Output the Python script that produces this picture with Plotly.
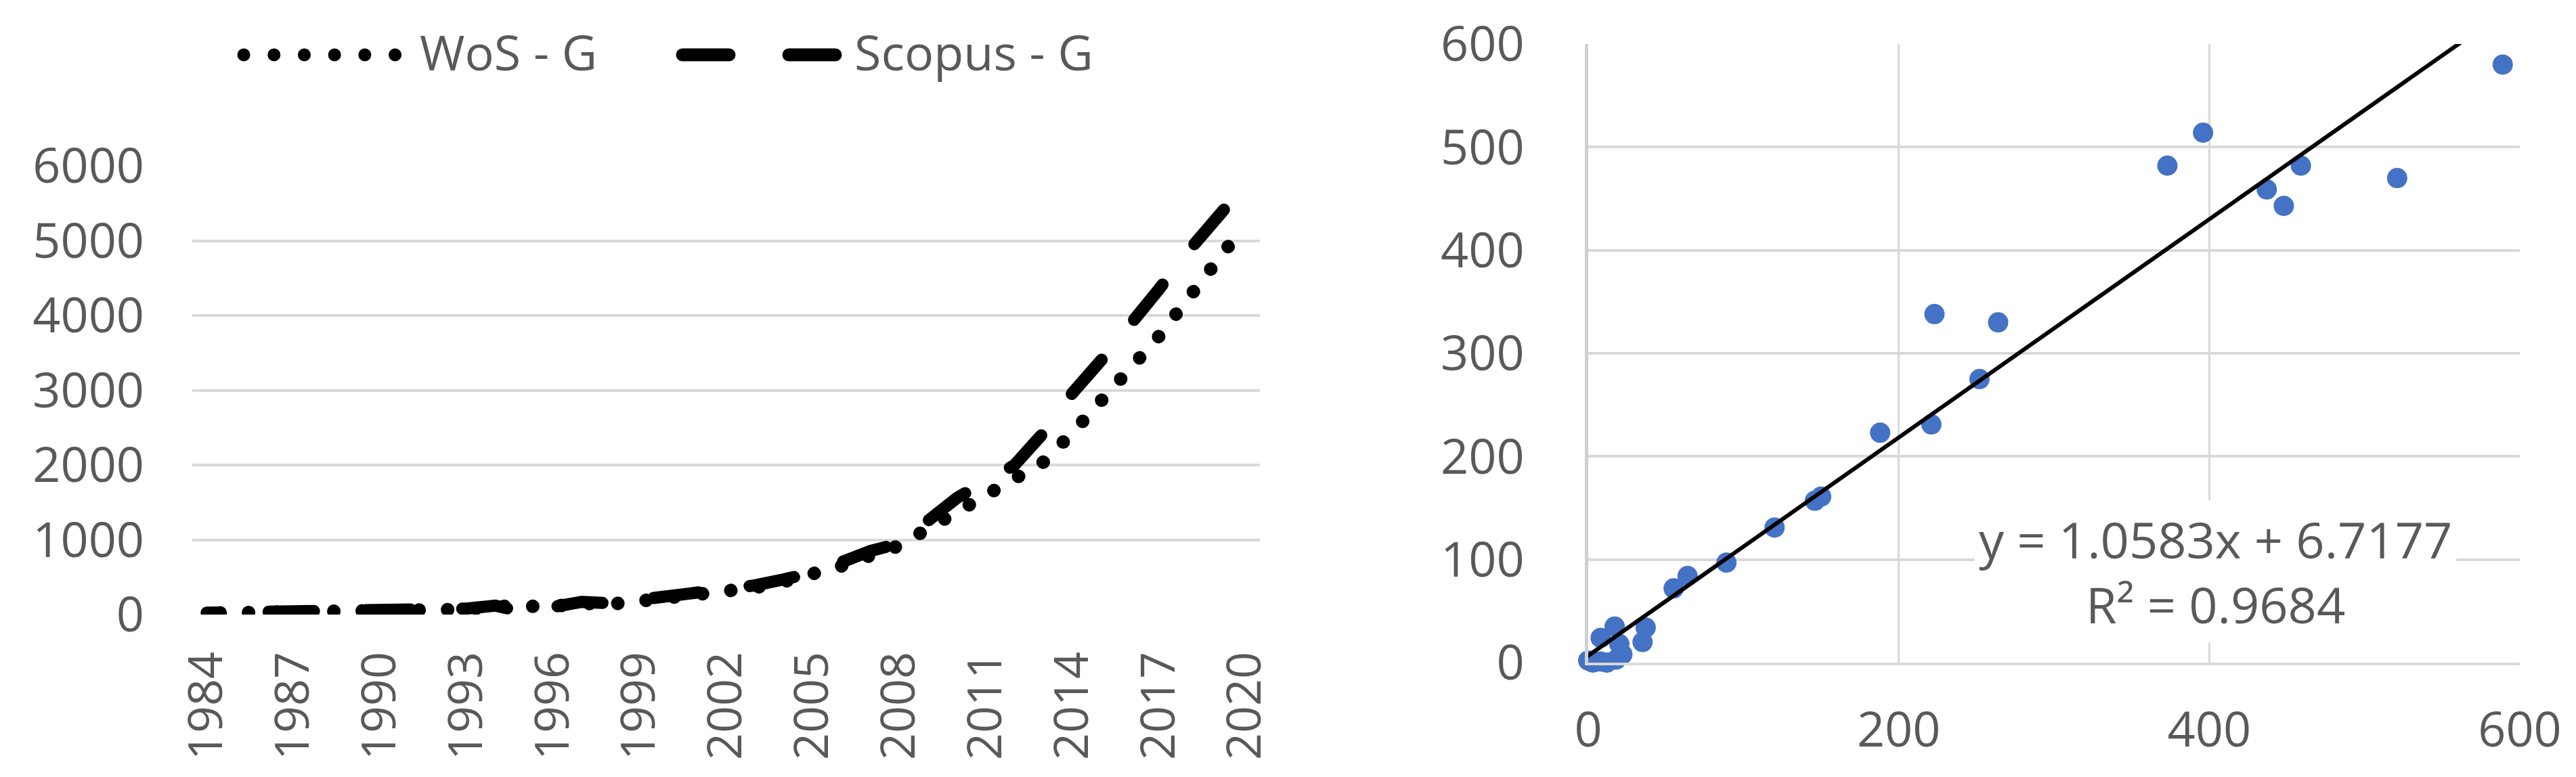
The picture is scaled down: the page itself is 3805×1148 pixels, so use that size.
import plotly.graph_objects as go

# ---------------- data ----------------
years = list(range(1984, 2021))
wos_g = [20, 25, 20, 15, 20, 25, 30, 40, 50, 70, 110, 90, 110, 150, 140, 180, 220, 250,
         300, 360, 440, 540, 650, 790, 920, 1150, 1380, 1580, 1800, 2040, 2430, 2830,
         3290, 3720, 4240, 4700, 5220]
scopus_g = [25, 30, 25, 20, 25, 30, 35, 45, 55, 80, 120, 30, 100, 170, 150, 200, 250, 270,
            320, 390, 470, 560, 700, 850, 950, 1250, 1560, 1780, 2000, 2430, 2960, 3400,
            3850, 4350, 4850, 5330, 5750]
year_ticks = list(range(1984, 2021, 3))
left_y_ticks = [0, 1000, 2000, 3000, 4000, 5000, 6000]

scatter_x = [0, 3, 8, 12, 18, 22, 8, 17, 20, 35, 37, 55, 64, 89, 120, 146, 150, 188, 221,
             223, 252, 264, 373, 396, 437, 448, 459, 521, 589]
scatter_y = [2, 0, 1, 0, 3, 8, 24, 35, 18, 20, 34, 72, 84, 97, 131, 157, 161, 223, 231,
             338, 275, 330, 482, 514, 459, 443, 482, 470, 580]
right_x_ticks = [0, 200, 400, 600]
right_y_ticks = [0, 100, 200, 300, 400, 500, 600]

slope = 1.0583
intercept = 6.7177
r_squared = 0.9684

series_names = ["WoS - G", "Scopus - G"]

# ---------------- figure ----------------
W, H = 3805, 1148
GRAY = "#595959"
GRID = "#d9d9d9"
FONT = "Open Sans"

fig = go.Figure()

fig.add_trace(go.Scatter(
    x=years, y=wos_g, mode="lines", name=series_names[0],
    line=dict(color="black", width=20, dash="0.1px,41.9px"),
    xaxis="x", yaxis="y", cliponaxis=False, hoverinfo="skip"))
fig.add_trace(go.Scatter(
    x=years, y=scopus_g, mode="lines", name=series_names[1],
    line=dict(color="black", width=18, dash="67px,76px"),
    xaxis="x", yaxis="y", cliponaxis=False, hoverinfo="skip"))

fig.add_trace(go.Scatter(
    x=scatter_x, y=scatter_y, mode="markers", name="data",
    marker=dict(color="#4472C4", size=30, line=dict(width=0)),
    xaxis="x2", yaxis="y2", cliponaxis=False, hoverinfo="skip"))

tx = [min(scatter_x), max(scatter_x)]
ty = [slope * v + intercept for v in tx]
fig.add_trace(go.Scatter(
    x=tx, y=ty, mode="lines", name="trend",
    line=dict(color="black", width=6),
    xaxis="x2", yaxis="y2", hoverinfo="skip"))

hfont = dict(family=FONT, size=72, color=GRAY)
vfont = dict(family=FONT, size=70, color=GRAY)

fig.update_layout(
    template="none",
    width=W, height=H, autosize=False,
    margin=dict(l=0, r=0, t=0, b=0, pad=0),
    paper_bgcolor="white", plot_bgcolor="white",
    showlegend=False,
    font=hfont,
    xaxis=dict(domain=[276 / W, 1853 / W], range=[1983.5, 2020.5],
               tickvals=year_ticks, tickangle=-90, tickfont=vfont,
               showgrid=False, zeroline=False, showline=False, ticks="",
               ticklabelstandoff=40, anchor="y", automargin=False),
    yaxis=dict(domain=[(H - 900) / H, (H - 237) / H], range=[0, 6000],
               tickvals=left_y_ticks, tickfont=hfont,
               showgrid=True, gridcolor=GRID, gridwidth=4,
               zeroline=False, showline=False, ticks="",
               ticklabelstandoff=70, anchor="x", automargin=False),
    xaxis2=dict(domain=[2338 / W, 3714 / W], range=[0, 600],
                tickvals=right_x_ticks, tickfont=hfont,
                showgrid=True, gridcolor=GRID, gridwidth=3,
                zeroline=False, showline=True, linecolor=GRID, linewidth=4,
                ticks="", ticklabelstandoff=34, anchor="y2", automargin=False),
    yaxis2=dict(domain=[(H - 971) / H, (H - 57) / H], range=[0, 600],
                tickvals=right_y_ticks, tickfont=hfont,
                showgrid=True, gridcolor=GRID, gridwidth=4,
                zeroline=False, showline=True, linecolor="#d0d0d0", linewidth=5,
                ticks="", ticklabelstandoff=75, anchor="x2", automargin=False),
)

# legend for the left chart (custom, with long line samples like the original)
leg_y = 1 - 73 / H
fig.add_shape(type="line", xref="paper", yref="paper",
              x0=352 / W, x1=576 / W, y0=leg_y, y1=leg_y,
              line=dict(color="black", width=19, dash="0.1px,44.6px"))
fig.add_shape(type="line", xref="paper", yref="paper",
              x0=1000 / W, x1=1226 / W, y0=leg_y, y1=leg_y,
              line=dict(color="black", width=19, dash="69px,88px"))
fig.add_annotation(xref="paper", yref="paper", x=610 / W, y=1 - 68 / H,
                   xanchor="left", yanchor="middle", showarrow=False,
                   text=series_names[0], font=hfont)
fig.add_annotation(xref="paper", yref="paper", x=1252 / W, y=1 - 68 / H,
                   xanchor="left", yanchor="middle", showarrow=False,
                   text=series_names[1], font=hfont)

# trendline equation
eq_text = f"y = {slope}x + {intercept}<br>R² = {r_squared}"
fig.add_annotation(xref="x2", yref="y2", x=404, y=88.6, xanchor="center", yanchor="middle",
                   showarrow=False, text=eq_text, align="center",
                   bgcolor="white", borderpad=6,
                   font=dict(family=FONT, size=74, color=GRAY))

post = """
var gd = document.getElementById('{plot_id}');
function styleLines(){
  gd.querySelectorAll('.scatterlayer .trace .js-line').forEach(function(p){p.style.strokeLinecap='round';});
  gd.querySelectorAll('.shapelayer path').forEach(function(p){p.style.strokeLinecap='round';});
  gd.querySelectorAll('.scatterlayer .trace').forEach(function(g){
    var d = g.__data__;
    var name = d && d[0] && d[0].trace && d[0].trace.name;
    var p = g.querySelector('.js-line');
    if(!p || !p.getTotalLength) return;
    var L = p.getTotalLength();
    if(name === 'Scopus - G'){
      var P = 143, tail = 49, dash = 67;
      var start = L - tail - dash;
      var o = ((P - (start % P)) % P + P) % P;
      p.style.strokeDashoffset = o + 'px';
    } else if(name === 'WoS - G'){
      var P2 = 42;
      var o2 = ((P2 - (L % P2)) % P2 + P2) % P2;
      p.style.strokeDashoffset = o2 + 'px';
    }
  });
}
styleLines();
gd.on('plotly_afterplot', styleLines);
"""

fig.write_html("out.html", post_script=post)
